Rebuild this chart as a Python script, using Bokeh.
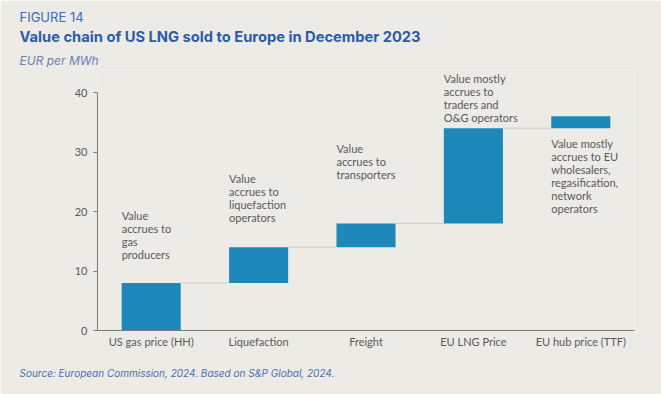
from bokeh.plotting import figure
from bokeh.models import FactorRange, Range1d, FixedTicker, Title
from bokeh.core.properties import value
from bokeh.embed import file_html
from bokeh.resources import INLINE

categories = ["US gas price (HH)", "Liquefaction", "Freight", "EU LNG Price", "EU hub price (TTF)"]
increments = [8, 6, 4, 16, 2]
notes = [
    "Value\naccrues to\ngas\nproducers",
    "Value\naccrues to\nliquefaction\noperators",
    "Value\naccrues to\ntransporters",
    "Value mostly\naccrues to\ntraders and\nO&G operators",
    "Value mostly\naccrues to EU\nwholesalers,\nregasification,\nnetwork\noperators",
]
note_top = [20.34, 26.67, 31.71, 43.48, 32.55]
y_ticks = [0, 10, 20, 30, 40]

bottoms, tops = [], []
run = 0
for v in increments:
    bottoms.append(run)
    run += v
    tops.append(run)

BG = "#ecebe6"
BAR = "#1f88bb"
TXT = "#595959"
BLUE = "#2b5ba8"
HALF = 0.275

p = figure(width=661, height=394, x_range=FactorRange(*categories), y_range=Range1d(0, 43.7),
           output_backend="svg", toolbar_location=None,
           min_border_left=97, min_border_right=27, min_border_top=70, min_border_bottom=64)
p.background_fill_color = BG
p.border_fill_color = BG
p.outline_line_color = None
p.xgrid.visible = False
p.ygrid.visible = False

p.vbar(x=categories, bottom=bottoms, top=tops, width=2 * HALF, fill_color=BAR, line_color=None)

x0 = [(c, HALF) for c in categories[:-1]]
x1 = [(c, -HALF) for c in categories[1:]]
p.segment(x0=x0, y0=tops[:-1], x1=x1, y1=tops[:-1], line_color="#cfcfca", line_width=1)

p.text(x=[(c, -HALF) for c in categories], y=note_top, text=notes,
       text_font=value("Lato"), text_font_size="11px", text_color=TXT,
       text_baseline="top", text_align="left", text_line_height=1.0)

p.yaxis.ticker = FixedTicker(ticks=y_ticks)
p.yaxis.bounds = (0, 40)
p.yaxis.minor_tick_line_color = None
p.yaxis.major_tick_in = 0
p.yaxis.major_tick_out = 4
p.yaxis.major_label_standoff = 6
for ax in (p.xaxis, p.yaxis):
    ax.axis_line_color = "#7a7a7a"
    ax.major_tick_line_color = "#7a7a7a"
    ax.major_label_text_font = "Lato"
    ax.major_label_text_font_size = "11px"
    ax.major_label_text_color = TXT
p.xaxis.major_tick_line_color = None
p.xaxis.major_tick_out = 0
p.xaxis.major_label_standoff = 4

def style(t, size, color, fstyle="normal", standoff=0):
    t.align = "left"
    t.offset = -78
    t.standoff = standoff
    t.text_font = "Inter"
    t.text_font_size = size
    t.text_color = color
    t.text_font_style = fstyle

p.title.text = "FIGURE 14"
style(p.title, "13px", "#3d6bb8", standoff=-2.5)
t_unit = Title(text="EUR per MWh")
style(t_unit, "12px", "#6d80b3", "italic", standoff=5)
p.add_layout(t_unit, "above")
t_main = Title(text="Value chain of US LNG sold to Europe in December 2023")
style(t_main, "14.7px", BLUE, "bold", standoff=4.5)
p.add_layout(t_main, "above")
src = Title(text="Source: European Commission, 2024. Based on S&P Global, 2024.")
style(src, "10px", "#4d6db3", "italic", standoff=29)
p.add_layout(src, "below")

open("out.html", "w").write(file_html(p, INLINE))
